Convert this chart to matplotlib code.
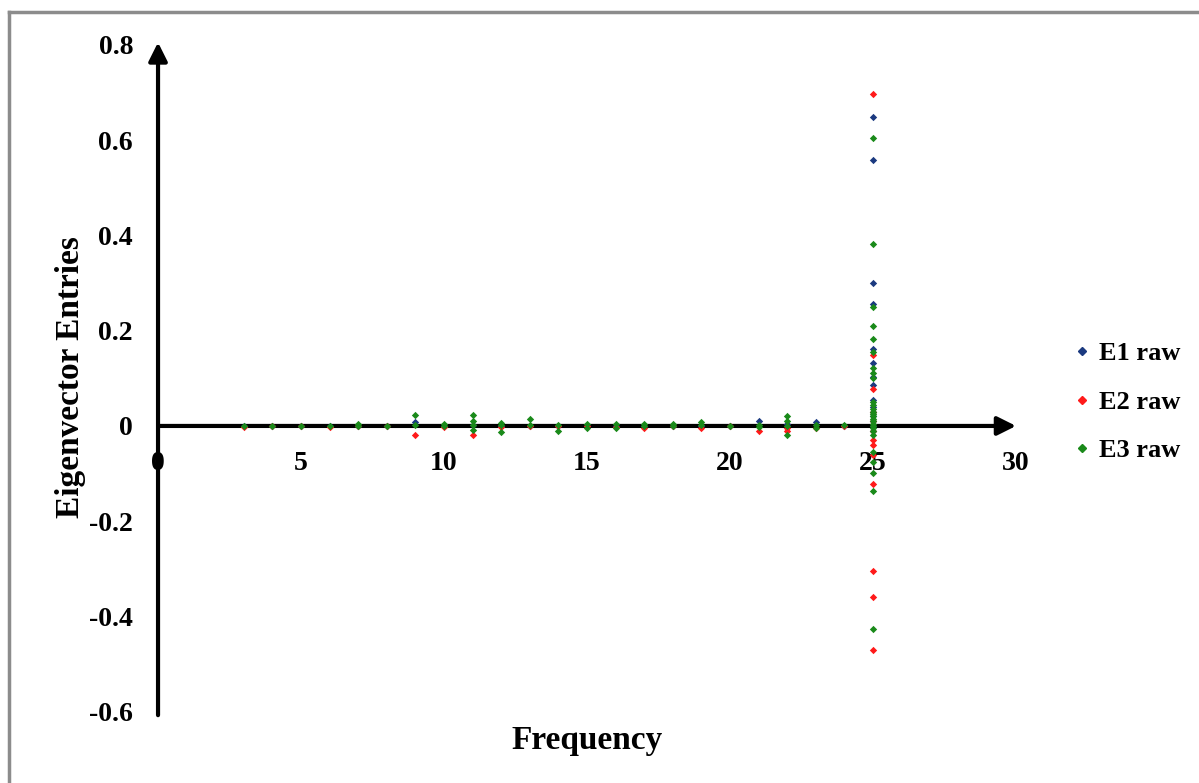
import matplotlib
matplotlib.use("Agg")
import matplotlib.pyplot as plt
from matplotlib.lines import Line2D

plt.rcParams['font.family'] = ['Liberation Serif', 'DejaVu Serif']
plt.rcParams['font.weight'] = 'bold'

# Valeurs
# Fréquences 3 à 24 : valeurs proches de 0
e1_freq = [3, 4, 5, 6, 7, 8, 9, 10, 11, 12, 13, 14, 15, 16, 17, 18, 19, 20, 21, 22, 23, 24]
e1_val = [0, 0, 0, 0, 0, 0, 0.008, 0, 0.003, 0, 0, 0, 0, 0, 0, 0, 0, 0, 0.01, 0.005, 0.008, 0]
# Fréquence 25 : grande dispersion
e1_f25 = [0.649, 0.558, 0.301, 0.255, 0.161, 0.132, 0.102, 0.086, 0.055, 0.04, 0.03, 0.02,
          0.01, 0.0, -0.01]

e2_freq = [3, 4, 5, 6, 7, 8, 9, 10, 11, 12, 13, 14, 15, 16, 17, 18, 19, 20, 21, 22, 22, 23, 24]
e2_val = [-0.002, 0, 0, -0.002, 0, 0, -0.02, -0.002, -0.02, -0.003, 0, 0, 0, -0.002, -0.005, 0,
          -0.005, 0, -0.01, -0.01, -0.005, -0.004, 0]
e2_f25 = [0.697, 0.149, 0.077, 0.03, 0.01, -0.01, -0.029, -0.04, -0.061, -0.122, -0.305, -0.36, -0.47]

e3_freq = [3, 4, 5, 6, 7, 7, 8, 9, 9, 10, 10, 11, 11, 11, 11, 12, 12, 12, 13, 13, 14, 14,
           15, 15, 16, 16, 17, 17, 18, 18, 19, 19, 20, 21, 21, 22, 22, 22, 22, 23, 23, 24]
e3_val = [0, 0, 0, 0, 0, 0.004, 0, 0.022, 0.002, 0, 0.004, 0.022, 0.01, 0.002, -0.008,
          -0.012, 0.003, 0.006, 0.015, 0.002, -0.01, 0.003,
          -0.004, 0.004, -0.005, 0.004, 0, 0.005, 0, 0.005, 0.002, 0.008, 0, 0.003, -0.003,
          0.02, 0.01, 0.0, -0.02, -0.005, 0.003, 0.003]
e3_f25 = [0.604, 0.381, 0.25, 0.21, 0.182, 0.156, 0.121, 0.111, 0.1, 0.05, 0.044, 0.035, 0.03,
          0.025, 0.02, 0.015, 0.01, 0.005, 0, -0.005, -0.01, -0.02, -0.054, -0.075, -0.099,
          -0.137, -0.427]

x_ticks = [0, 5, 10, 15, 20, 25, 30]
y_ticks = [-0.6, -0.4, -0.2, 0, 0.2, 0.4, 0.6, 0.8]
y_labels = ['-0.6', '-0.4', '-0.2', '0', '0.2', '0.4', '0.6', '0.8']

bleu = '#1b3a80'
rouge = '#ff1a1a'
vert = '#1a8a1a'

fig = plt.figure(figsize=(11.99, 7.83), dpi=100)
ax = fig.add_axes([0.1318, 0.0787, 0.7156, 0.8763])
ax.set_xlim(0, 30)
ax.set_ylim(-0.62, 0.82)

kw = dict(marker='D', s=14, linewidths=0, zorder=3)
for freq, val, f25, c in [(e1_freq, e1_val, e1_f25, bleu),
                          (e2_freq, e2_val, e2_f25, rouge),
                          (e3_freq, e3_val, e3_f25, vert)]:
    ax.scatter(freq + [25] * len(f25), val + f25, color=c, **kw)

# Axes avec flèches (style Excel)
for sp in ax.spines.values():
    sp.set_visible(False)
ax.spines['bottom'].set_position('zero')
ax.spines['left'].set_position('zero')
ax.annotate('', xy=(30, 0), xytext=(0, 0),
            arrowprops=dict(arrowstyle='-|>', lw=3, color='black', mutation_scale=28,
                            shrinkA=0, shrinkB=0), zorder=2)
ax.annotate('', xy=(0, 0.805), xytext=(0, -0.607),
            arrowprops=dict(arrowstyle='-|>', lw=3, color='black', mutation_scale=28,
                            shrinkA=0, shrinkB=0), zorder=2)

ax.set_xticks(x_ticks)
ax.set_xticklabels([str(t) for t in x_ticks])
ax.set_yticks(y_ticks)
ax.set_yticklabels(y_labels)
ax.tick_params(axis='x', length=0, pad=18, labelsize=20)
ax.tick_params(axis='y', length=0, pad=18, labelsize=20)
for lab in ax.get_xticklabels() + ax.get_yticklabels():
    lab.set_fontweight('bold')

fig.text(71 / 1199, 1 - 377 / 783, "Eigenvector Entries", rotation=90, fontsize=24,
         fontweight='bold', ha='center', va='center')
fig.text(587 / 1199, 1 - 740 / 783, "Frequency", fontsize=24,
         fontweight='bold', ha='center', va='center')

handles = [Line2D([], [], marker='D', linestyle='', color=c, markersize=4)
           for c in (bleu, rouge, vert)]
fig.legend(handles, ['E1 raw', 'E2 raw', 'E3 raw'], loc='center left',
           bbox_to_anchor=(1074 / 1199, 1 - 402 / 783), frameon=False,
           prop={'size': 19, 'weight': 'bold'}, handlelength=0.6, handletextpad=0.35,
           labelspacing=0.95, borderpad=0, borderaxespad=0)

# Cadre gris du graphique
fig.add_artist(Line2D([9 / 1199, 9 / 1199], [0, 1 - 12 / 783], color='#8c8c8c', lw=2.5,
                      transform=fig.transFigure))
fig.add_artist(Line2D([9 / 1199, 1], [1 - 12 / 783, 1 - 12 / 783], color='#8c8c8c', lw=2.5,
                      transform=fig.transFigure))

fig.savefig('out.png', dpi=100)
